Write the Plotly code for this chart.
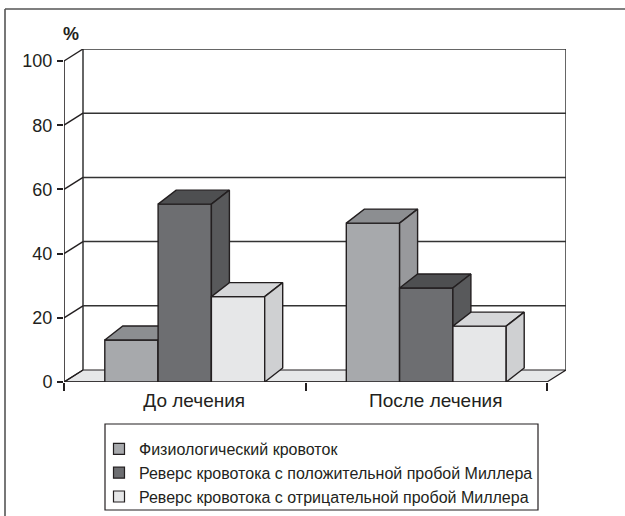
import plotly.graph_objects as go

# ---------------- data ----------------
categories = ["До лечения", "После лечения"]
series_names = [
    "Физиологический кровоток",
    "Реверс кровотока с положительной пробой Миллера",
    "Реверс кровотока с отрицательной пробой Миллера",
]
physiological = [13.1, 49.5]
reverse_positive = [55.4, 29.3]
reverse_negative = [26.6, 17.4]
y_ticks = [0, 20, 40, 60, 80, 100]

# ---------------- style ----------------
front_colors = ["#a7a9ac", "#6d6e71", "#e6e7e8"]
top_colors = ["#8c8e91", "#4e4f51", "#d6d7d9"]
side_colors = ["#98999c", "#58595b", "#cfd0d2"]
edge = "#231f20"
FONT = "Liberation Sans, Arial, sans-serif"

W, H = 625, 516
ML, MR, MT, MB = 64, 59, 49, 134
PX_X = 241.5   # pixels per category unit
PX_Y = 3.21    # pixels per percent unit
wall_dx, wall_dy = 19 / PX_X, 12 / PX_Y
bar_dx, bar_dy = 18 / PX_X, 14 / PX_Y
bar_w = 53.3 / PX_X

series = [physiological, reverse_positive, reverse_negative]
n = len(categories)
x_lo, x_hi = -0.5, n - 0.5
y_top = max(y_ticks)

fig = go.Figure()


def poly(xs, ys, fill, width=1.4):
    fig.add_trace(go.Scatter(
        x=xs + [xs[0]], y=ys + [ys[0]], mode="lines", fill="toself",
        fillcolor=fill, line=dict(color=edge, width=width),
        showlegend=False, hoverinfo="skip", cliponaxis=False))


def line(xs, ys, color=edge, width=1.4):
    fig.add_trace(go.Scatter(
        x=xs, y=ys, mode="lines", line=dict(color=color, width=width),
        showlegend=False, hoverinfo="skip", cliponaxis=False))


# floor
poly([x_lo, x_hi, x_hi + wall_dx, x_lo + wall_dx],
     [0, 0, wall_dy, wall_dy], "#e6e7e8", 1.2)

# back wall gridlines and edges
gx, gy = [], []
for v in y_ticks[1:]:
    gx += [x_lo + wall_dx, x_hi + wall_dx, None]
    gy += [v + wall_dy, v + wall_dy, None]
line(gx, gy, "#333333", 1.5)
line([x_lo + wall_dx, x_lo + wall_dx, None, x_hi + wall_dx, x_hi + wall_dx],
     [wall_dy, y_top + wall_dy, None, wall_dy, y_top + wall_dy], "#333333", 1.5)

# side wall diagonals
dx_, dy_ = [], []
for v in y_ticks:
    dx_ += [x_lo, x_lo + wall_dx, None]
    dy_ += [v, v + wall_dy, None]
line(dx_, dy_, edge, 1.4)

# front axis lines
line([x_lo, x_lo, None, x_lo, x_hi], [y_top, 0, None, 0, 0], edge, 1.6)

# bars (3D)
for ci in range(n):
    for si, vals in enumerate(series):
        v = vals[ci]
        x0 = ci - 1.5 * bar_w + si * bar_w
        x1 = x0 + bar_w
        poly([x0, x1, x1, x0], [0, 0, v, v], front_colors[si])
        poly([x0, x1, x1 + bar_dx, x0 + bar_dx],
             [v, v, v + bar_dy, v + bar_dy], top_colors[si])
        poly([x1, x1 + bar_dx, x1 + bar_dx, x1],
             [0, bar_dy, v + bar_dy, v], side_colors[si])

# legend entries
for si, name in enumerate(series_names):
    fig.add_trace(go.Scatter(
        x=[None], y=[None], mode="markers", name=name,
        marker=dict(symbol="square", size=11, color=front_colors[si],
                    line=dict(color=edge, width=1.2))))

# ticks on category boundaries (overlay axis)
fig.add_trace(go.Scatter(x=[None], y=[None], xaxis="x2", showlegend=False))

plot_w = W - ML - MR
plot_h = H - MT - MB


def px(xp):
    return (xp - ML) / plot_w


def py(yp):
    return (H - MB - yp) / plot_h


fig.update_layout(
    width=W, height=H, autosize=False,
    margin=dict(l=ML, r=MR, t=MT, b=MB, pad=0, autoexpand=False),
    paper_bgcolor="white", plot_bgcolor="rgba(0,0,0,0)",
    font=dict(family=FONT, color=edge, size=16),
    xaxis=dict(range=[x_lo, x_hi + wall_dx], showgrid=False, zeroline=False,
               showline=False, automargin=False,
               tickvals=[i + wall_dx / 2 for i in range(n)],
               ticktext=categories, ticks="outside", ticklen=1,
               tickcolor="rgba(0,0,0,0)", tickfont=dict(size=19)),
    xaxis2=dict(range=[x_lo, x_hi + wall_dx], overlaying="x", anchor="y",
                side="bottom", showgrid=False, zeroline=False, showline=False,
                tickvals=[x_lo + k for k in range(n + 1)],
                showticklabels=False, ticks="outside", ticklen=8,
                tickwidth=1.6, tickcolor=edge),
    yaxis=dict(range=[0, y_top + wall_dy], showgrid=False, zeroline=False,
               showline=False, automargin=False, tickvals=y_ticks,
               ticks="outside", ticklen=6, ticklabelstandoff=1,
               tickwidth=1.6, tickcolor=edge, tickfont=dict(size=18)),
    legend=dict(x=px(99), y=py(432), xanchor="left", yanchor="top",
                bgcolor="rgba(0,0,0,0)", borderwidth=0,
                font=dict(family=FONT, size=16, color=edge),
                itemclick=False),
    annotations=[dict(text="<b>%</b>", xref="paper", yref="paper",
                      x=px(71), y=py(33.5), xanchor="center",
                      yanchor="middle", showarrow=False,
                      font=dict(size=18, family=FONT, color=edge))],
    shapes=[
        # outer frame (left and top edges)
        dict(type="line", xref="paper", yref="paper", x0=px(5), x1=px(5),
             y0=py(9), y1=py(H + 2), line=dict(color="#555555", width=1.6)),
        dict(type="line", xref="paper", yref="paper", x0=px(5), x1=px(W + 2),
             y0=py(9), y1=py(9), line=dict(color="#555555", width=1.6)),
        # legend box
        dict(type="rect", xref="paper", yref="paper", x0=px(105), x1=px(538),
             y0=py(510), y1=py(424), line=dict(color=edge, width=1.2)),
    ],
)

fig.write_html("out.html")
